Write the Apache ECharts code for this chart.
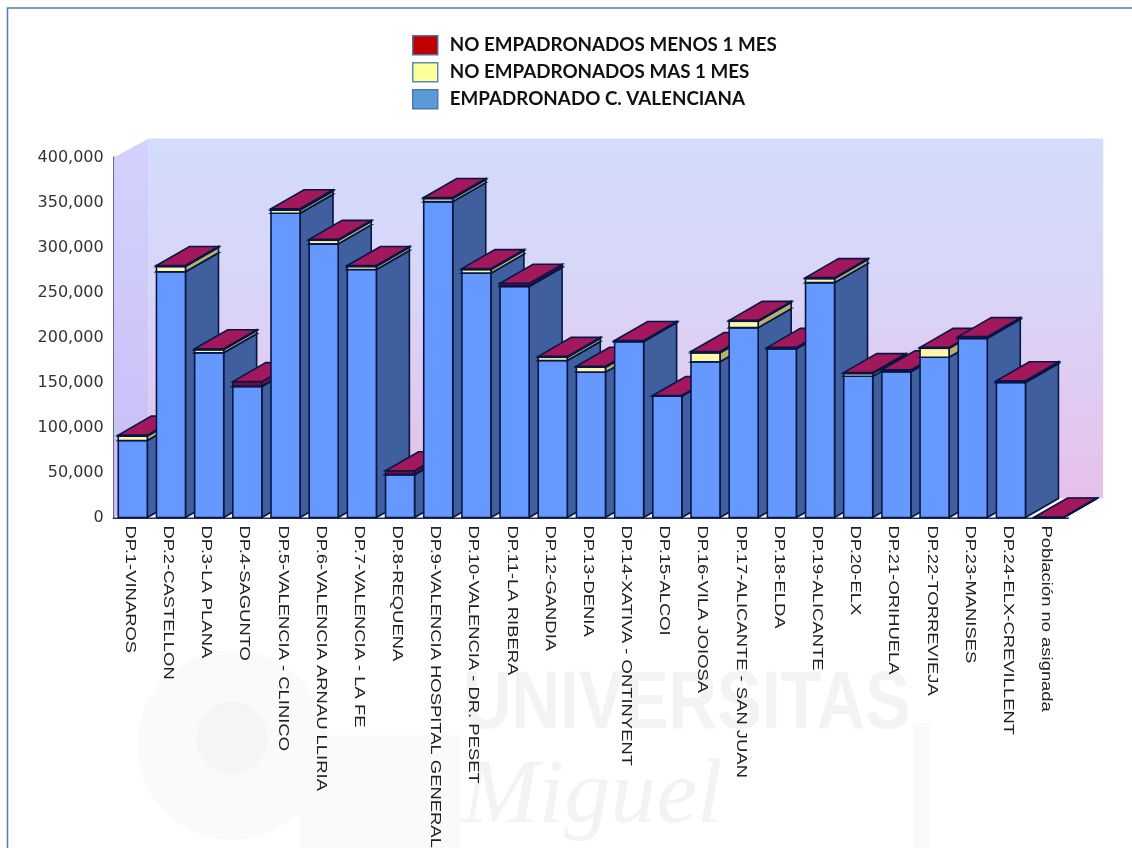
<!DOCTYPE html>
<html>
<head>
<meta charset="utf-8">
<style>html,body{margin:0;padding:0;background:#fff}#c{width:1132px;height:848px}</style>
<script src="https://cdn.jsdelivr.net/npm/echarts@6/dist/echarts.min.js"></script>
</head>
<body>
<div id="c"></div>
<script>
const categories = ['DP.1-VINAROS','DP.2-CASTELLON','DP.3-LA PLANA','DP.4-SAGUNTO','DP.5-VALENCIA - CLINICO','DP.6-VALENCIA ARNAU LLIRIA','DP.7-VALENCIA - LA FE','DP.8-REQUENA','DP.9-VALENCIA HOSPITAL GENERAL','DP.10-VALENCIA - DR. PESET','DP.11-LA RIBERA','DP.12-GANDIA','DP.13-DENIA','DP.14-XATIVA - ONTINYENT','DP.15-ALCOI','DP.16-VILA JOIOSA','DP.17-ALICANTE - SAN JUAN','DP.18-ELDA','DP.19-ALICANTE','DP.20-ELX','DP.21-ORIHUELA','DP.22-TORREVIEJA','DP.23-MANISES','DP.24-ELX-CREVILLENT','Población no asignada'];
const empadronado = [85500,273000,183000,145500,338000,304000,275500,47500,351000,271500,256700,174500,161500,195500,134800,173000,211000,187500,261000,157000,162000,178000,199000,150000,0];
const noEmpMas = [5000,6000,3500,500,3500,4000,3500,500,3500,4000,1000,3500,5500,200,200,10000,7000,500,4500,3000,500,10000,500,500,0];
const noEmpMenos = [1000,1000,1000,5000,1500,1000,1000,4000,1000,1000,2500,1000,1000,1000,500,1500,1000,1000,1000,1000,1500,1000,1500,1500,500];
const seriesNames = ['NO EMPADRONADOS MENOS 1 MES','NO EMPADRONADOS MAS 1 MES','EMPADRONADO C. VALENCIANA'];
const yMax = 400000, yStep = 50000;

const DX = 33, DY = -19, WALL_DX = 35, WALL_DY = -19;
const EDGE = '#081644';

function segmentRenderer(front, side, top, order) {
  return function (params, api) {
    const i = api.value(0), base = api.value(2), val = api.value(1);
    const bw = api.size([1, 0])[0] * 0.76;
    const a = api.coord([i, base]), b = api.coord([i, base + val]);
    const l = a[0] - bw / 2, r = a[0] + bw / 2, y0 = a[1], y1 = b[1];
    const z = (i + 1) * 10 + order;
    const st = { stroke: EDGE, lineWidth: 1.6 };
    const poly = (pts, fill) => ({ type: 'polygon', z2: z, shape: { points: pts }, style: Object.assign({ fill }, st) });
    return { type: 'group', children: [
      poly([[r, y0], [r + DX, y0 + DY], [r + DX, y1 + DY], [r, y1]], side),
      poly([[l, y0], [r, y0], [r, y1], [l, y1]], front),
      poly([[l, y1], [r, y1], [r + DX, y1 + DY], [l + DX, y1 + DY]], top)
    ]};
  };
}

function stackedData(own, below) {
  return own.map((v, i) => [i, v, below.reduce((s, arr) => s + arr[i], 0)]);
}

const option = {
  animation: false,
  backgroundColor: 'transparent',
  textStyle: { fontFamily: 'DejaVu Sans' },
  grid: { left: 113.7, top: 157.5, width: 954.5, height: 360, containLabel: false },
  legend: {
    left: 407, top: 30, orient: 'vertical', itemWidth: 25, itemHeight: 19, itemGap: 6.5,
    selectedMode: false, icon: 'rect',
    textStyle: { fontFamily: 'Lato', fontWeight: 'bold', fontSize: 18.8, color: '#111', padding: [2, 0, 0, 7] },
    data: [
      { name: seriesNames[0], itemStyle: { color: '#c00000', borderColor: '#4f6fa8', borderWidth: 1.5 } },
      { name: seriesNames[1], itemStyle: { color: '#ffff99', borderColor: '#5f86b8', borderWidth: 1.5 } },
      { name: seriesNames[2], itemStyle: { color: '#5b9bd5', borderColor: '#4a7ab0', borderWidth: 1.5 } }
    ]
  },
  xAxis: {
    type: 'category', data: categories, boundaryGap: true,
    axisLine: { lineStyle: { color: '#1c2f66', width: 2 } },
    axisTick: { show: false },
    axisLabel: { show: false }
  },
  yAxis: {
    type: 'value', min: 0, max: yMax, interval: yStep,
    splitLine: { show: false }, axisTick: { show: false },
    axisLine: { show: true, lineStyle: { color: '#3a3f6a', width: 2 } },
    axisLabel: { margin: 10, fontFamily: 'DejaVu Sans', fontSize: 16, color: '#333',
      formatter: v => v.toLocaleString('en-US') }
  },
  series: [
    { // room: left wall, back wall and floor, tied to the axes
      type: 'custom', name: 'walls', silent: true, z: 1, data: [[0]],
      encode: { x: 0 }, clip: false,
      renderItem: function (params, api) {
        const c = params.coordSys;
        const x0 = c.x, x1 = c.x + c.width;
        const top = api.coord([0, yMax])[1], bot = api.coord([0, 0])[1];
        return { type: 'group', children: [
          { type: 'polygon', shape: { points: [[x0, top], [x0 + WALL_DX, top + WALL_DY], [x0 + WALL_DX, bot + WALL_DY], [x0, bot]] },
            style: { fill: { type: 'linear', x: 0, y: 0, x2: 0, y2: 1, colorStops: [{ offset: 0, color: '#d2d2fd' }, { offset: 1, color: '#c8bcf4' }] } } },
          { type: 'rect', shape: { x: x0 + WALL_DX, y: top + WALL_DY, width: c.width, height: bot - top },
            style: { fill: { type: 'linear', x: 0, y: 0, x2: 0, y2: 1, colorStops: [{ offset: 0, color: '#d3dcfb' }, { offset: 0.4, color: '#d8d6f8' }, { offset: 1, color: '#e6c0ea' }] } } },
          { type: 'polygon', shape: { points: [[x0, bot], [x0 + WALL_DX, bot + WALL_DY], [x1 + WALL_DX, bot + WALL_DY], [x1, bot]] },
            style: { fill: '#fbf9fd' } }
        ]};
      }
    },
    { type: 'custom', name: seriesNames[2], z: 2, clip: false, encode: { x: 0, y: 1 },
      itemStyle: { color: '#5b9bd5' },
      data: stackedData(empadronado, []),
      renderItem: segmentRenderer('#6699ff', '#3f5f9f', '#6699ff', 0) },
    { type: 'custom', name: seriesNames[1], z: 2, clip: false, encode: { x: 0, y: 1 },
      itemStyle: { color: '#ffff99' },
      data: stackedData(noEmpMas, [empadronado]),
      renderItem: segmentRenderer('#fff8a6', '#b5b06c', '#fff8a6', 1) },
    { type: 'custom', name: seriesNames[0], z: 2, clip: false, encode: { x: 0, y: 1 },
      itemStyle: { color: '#c00000' },
      data: stackedData(noEmpMenos, [empadronado, noEmpMas]),
      renderItem: segmentRenderer('#7a0a3c', '#7a0a3c', '#a3175c', 2) },
    { // stretched category labels, placed through the x scale
      type: 'custom', name: 'labels', silent: true, z: 3, clip: false, encode: { x: 0 },
      data: categories.map((c, i) => [i]),
      renderItem: function (params, api) {
        const i = api.value(0);
        const p = api.coord([i, 0]);
        return { type: 'text', x: p[0] - 3, y: p[1] + 8, rotation: -Math.PI / 2, scaleX: 1.27, scaleY: 1,
          style: { text: categories[i], fontFamily: 'Liberation Sans', fontSize: 14.5, fill: '#222',
            align: 'left', verticalAlign: 'middle' } };
      }
    }
  ],
  graphic: [
    { type: 'polyline', z: -5, silent: true, shape: { points: [[7.5, 848], [7.5, 8], [1132, 8]] },
      style: { stroke: '#4a7ebb', lineWidth: 1.5, fill: null } },
    { type: 'circle', z: -7, silent: true, shape: { cx: 232, cy: 745, r: 95 }, style: { fill: '#fafafa' } },
    { type: 'circle', z: -6, silent: true, shape: { cx: 232, cy: 738, r: 36 }, style: { fill: '#f5f5f5' } },
    { type: 'rect', z: -6, silent: true, shape: { x: 300, y: 735, width: 160, height: 113 }, style: { fill: '#fafafa' } },
    { type: 'rect', z: -6, silent: true, shape: { x: 913, y: 723, width: 17, height: 125 }, style: { fill: '#fafafa' } },
    { type: 'text', z: -4, silent: true, x: 463, y: 664, scaleX: 0.82,
      style: { text: 'UNIVERSITAS', fontFamily: 'Liberation Sans', fontWeight: 'bold', fontSize: 82, fill: '#f3f3f3' } },
    { type: 'text', z: -4, silent: true, x: 462, y: 752,
      style: { text: 'Miguel', fontFamily: 'Liberation Serif', fontStyle: 'italic', fontSize: 92, fill: '#f3f3f3' } }
  ]
};
const chart = echarts.init(document.getElementById('c'), null, { renderer: 'canvas' });
chart.setOption(option);
</script>
</body>
</html>
